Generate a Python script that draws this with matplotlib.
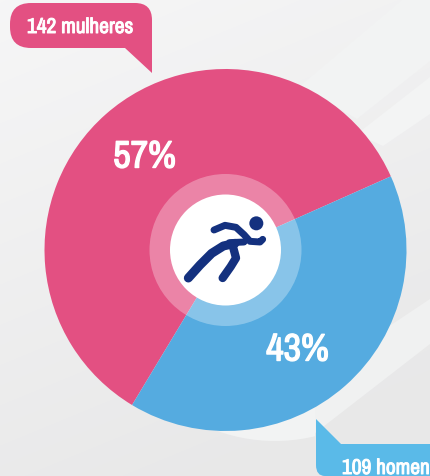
import numpy as np
import matplotlib
matplotlib.use("Agg")
import matplotlib.pyplot as plt
import matplotlib.patheffects as pe
from matplotlib.patches import Circle, PathPatch, Polygon, Rectangle
from matplotlib.path import Path

# Data
categories = ["mulheres", "homens"]
counts = [142, 109]
percent_labels = ["57%", "43%"]
drawn_shares = [59.7, 40.3]   # slice sizes as actually drawn in the reference
slice_colors = ["#E35082", "#55ABE0"]

W, H = 430, 477
plt.rcParams["font.family"] = ["Archivo Narrow", "Liberation Sans", "DejaVu Sans"]
fig = plt.figure(figsize=(W / 100, H / 100), dpi=100)
ax = fig.add_axes([0, 0, 1, 1])

def Y(py):
    return H - py
def poly(pts, color, z=1):
    ax.add_patch(Polygon([(a, Y(b)) for a, b in pts], fc=color, ec="none", zorder=z))

# background
yy, xx = np.mgrid[0:H, 0:W]
bg = 0.965 - 0.055 * np.clip((xx * 0.35 + yy * 0.85) / 480, 0, 1)
ax.imshow(np.dstack([bg, bg, bg + 0.002]).clip(0, 1), extent=(0, W, 0, H), origin="upper", zorder=0)

# diagonal lighter bands, upper right and lower right
poly([(300, 87), (403, 0), (430, 0), (430, 62), (357, 120)], "#F2F3F3")
poly([(357, 135), (430, 78), (430, 115), (383, 147)], "#F3F4F4")
poly([(290, 400), (385, 330), (430, 300), (430, 345), (310, 438)], "#F0F1F1")
halo = Circle((275, Y(272)), 170, fc="#F2F3F3", ec="none", zorder=1)
ax.add_patch(halo)
halo.set_clip_path(Rectangle((200, 0), 115, 100, transform=ax.transData))

# pie
cx, cy, R = 225.5, Y(251), 181
ax.pie(drawn_shares, colors=slice_colors, startangle=24, center=(cx, cy), radius=R,
       frame=True, wedgeprops=dict(linewidth=0, zorder=2))
ax.add_patch(Circle((cx, cy), 76, fc="white", alpha=0.3, ec="none", zorder=3))
ax.add_patch(Circle((cx, cy), 55.5, fc="white", ec="none", zorder=4))

# runner icon
navy = "#14317F"
def zx(z): return 140 + z / 3
def zy(z): return Y(165 + z / 3)
def stroke(pts, lw):
    xs = [zx(p[0]) for p in pts]
    ys = [zy(p[1]) for p in pts]
    ax.plot(xs, ys, color=navy, lw=lw, solid_capstyle="round", solid_joinstyle="round", zorder=5)
ax.add_patch(Circle((zx(349), zy(178)), 7.0, fc=navy, ec="none", zorder=5))
stroke([(222, 198), (255, 184), (288, 190), (312, 212), (330, 232), (360, 234), (368, 226)], 5.0)
stroke([(145, 342), (180, 303), (215, 268), (250, 246), (285, 238)], 6.5)
stroke([(268, 236), (312, 234)], 5.0)
stroke([(248, 342), (272, 308), (288, 282), (280, 252)], 6.0)

# callouts
def bubble_pink():
    x0, x1, y0, y1, r, r2 = 10, 152, 4, 49, 21, 17
    verts = [(x0 + r, y0), (x1 - r2, y0), (x1, y0), (x1, y0 + r2), (x1, 74), (125, 49),
             (x0 + r, y1), (x0, y1), (x0, y1 - r), (x0, y0 + r), (x0, y0), (x0 + r, y0), (x0 + r, y0)]
    codes = [Path.MOVETO, Path.LINETO, Path.CURVE3, Path.CURVE3, Path.LINETO, Path.LINETO,
             Path.LINETO, Path.CURVE3, Path.CURVE3, Path.LINETO, Path.CURVE3, Path.CURVE3, Path.CLOSEPOLY]
    return Path([(a, Y(b)) for a, b in verts], codes)
def bubble_blue():
    verts = [(316, 420), (341, 445), (430, 445), (430, 477), (325, 477), (316, 477), (316, 466), (316, 420)]
    codes = [Path.MOVETO, Path.LINETO, Path.LINETO, Path.LINETO, Path.LINETO, Path.CURVE3, Path.CURVE3, Path.CLOSEPOLY]
    return Path([(a, Y(b)) for a, b in verts], codes)
ax.add_patch(PathPatch(bubble_pink(), fc=slice_colors[0], ec="none", zorder=6))
ax.add_patch(PathPatch(bubble_blue(), fc="#5ABAE8", ec="none", zorder=6))

# text
small = dict(color="white", fontsize=15.4, ha="left", va="center", zorder=7,
             path_effects=[pe.withStroke(linewidth=0.7, foreground="white")])
big = dict(color="white", fontsize=27.5, ha="center", va="center", zorder=7,
           path_effects=[pe.withStroke(linewidth=1.0, foreground="white")])
ax.text(27, Y(28), f"{counts[0]} {categories[0]}", **small)
ax.text(342, Y(469), f"{counts[1]} {categories[1]}", **small)
ax.text(144.5, Y(158), percent_labels[0], **big)
ax.text(297.5, Y(351), percent_labels[1], **big)

ax.set_xlim(0, W)
ax.set_ylim(0, H)
ax.set_aspect("auto")
ax.axis("off")
fig.savefig("out.png", dpi=100)
